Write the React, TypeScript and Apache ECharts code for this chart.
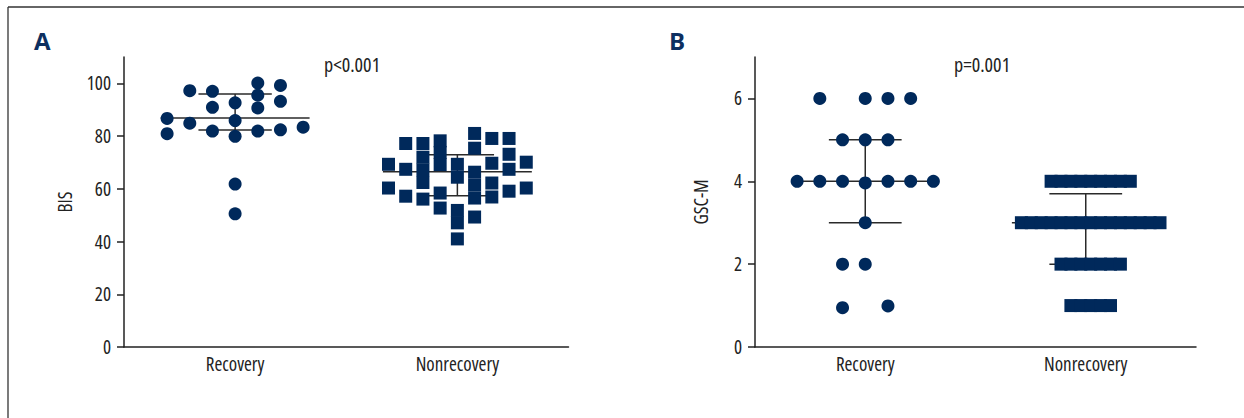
import React, { useEffect, useRef } from 'react';
import * as echarts from 'echarts';

const categories = ['Recovery', 'Nonrecovery'];
const bisTicks = [0, 20, 40, 60, 80, 100];
const gscTicks = [0, 2, 4, 6];

// points: [jitter lane, value]
const bisRecovery = [
  [-3, 86.7], [-3, 80.9],
  [-2, 97.2], [-2, 84.9],
  [-1, 97.0], [-1, 90.9], [-1, 81.9],
  [0, 92.6], [0, 85.9], [0, 79.9], [0, 61.8], [0, 50.5],
  [1, 100.1], [1, 95.5], [1, 90.7], [1, 81.9],
  [2, 99.2], [2, 93.2], [2, 82.4],
  [3, 83.4],
];
const bisNonrecovery = [
  [-4, 69.3], [-4, 60.3],
  [-3, 77.2], [-3, 67.4], [-3, 57.2],
  [-2, 77.2], [-2, 72.0], [-2, 67.2], [-2, 62.4], [-2, 56.1],
  [-1, 78.2], [-1, 73.8], [-1, 69.2], [-1, 58.4], [-1, 52.7],
  [0, 69.3], [0, 64.4], [0, 51.8], [0, 47.1], [0, 41.0],
  [1, 81.0], [1, 75.4], [1, 66.3], [1, 61.4], [1, 56.5], [1, 49.3],
  [2, 79.1], [2, 69.7], [2, 62.2], [2, 56.9],
  [3, 79.1], [3, 73.1], [3, 67.4], [3, 59.1],
  [4, 70.1], [4, 60.3],
];
const gscRecovery = [
  [-2, 6], [0, 6], [1, 6], [2, 6],
  [-1, 5], [0, 5], [1, 5],
  [-3, 4], [-2, 4], [-1, 4], [0, 3.96], [1, 4], [2, 4], [3, 4],
  [0, 3],
  [-1, 2], [0, 2],
  [-1, 0.95], [1, 0.99],
];
const gscNonrecovery = [
  [-3.5, 4], [-2.5, 4], [-1.5, 4], [-0.5, 4], [0.5, 4], [1.5, 4], [2.5, 4], [3.5, 4], [4.5, 4],
  [-6.5, 3], [-5.5, 3], [-4.5, 3], [-3.5, 3], [-2.5, 3], [-1.5, 3], [-0.5, 3], [0.5, 3],
  [1.5, 3], [2.5, 3], [3.5, 3], [4.5, 3], [5.5, 3], [6.5, 3], [7.5, 3],
  [-2.5, 2], [-1.5, 2], [-0.5, 2], [0.5, 2], [1.5, 2], [2.5, 2], [3.5, 2],
  [-1.5, 1], [-0.5, 1], [0.5, 1], [1.5, 1], [2.5, 1],
];

const bisMedian = [86.9, 66.5];
const bisQ1 = [82.3, 57.4];
const bisQ3 = [96.0, 72.9];
const gscMedian = [4, 3];
const gscQ1 = [3, 2];
const gscQ3 = [5, 3.7];

const NAVY = '#00295b';
const INK = '#222';
const FAMILY = "'Open Sans', sans-serif";
const MED_HALF = 0.335;
const QUART_HALF = 0.165;

function place(points: number[][], group: number, step: number) {
  return points.map(([lane, v]) => [group + lane * step, v]);
}

function errorSeries(xAxisIndex: number, yAxisIndex: number, q1: number[], med: number[], q3: number[]) {
  return {
    type: 'custom',
    xAxisIndex,
    yAxisIndex,
    z: 1,
    silent: true,
    data: categories.map((_, i) => [i, q1[i], med[i], q3[i]]),
    encode: { x: 0, y: [1, 2, 3] },
    renderItem: (_params: any, api: any) => {
      const x = api.value(0);
      const lo = api.value(1);
      const m = api.value(2);
      const hi = api.value(3);
      const style = { stroke: '#2a2a2a', lineWidth: 1.5 };
      const seg = (xa: number, ya: number, xb: number, yb: number) => {
        const a = api.coord([xa, ya]);
        const b = api.coord([xb, yb]);
        return { type: 'line', shape: { x1: a[0], y1: a[1], x2: b[0], y2: b[1] }, style };
      };
      return {
        type: 'group',
        children: [
          seg(x - MED_HALF, m, x + MED_HALF, m),
          seg(x - QUART_HALF, hi, x + QUART_HALF, hi),
          seg(x - QUART_HALF, lo, x + QUART_HALF, lo),
          seg(x, hi, x, lo),
        ],
      };
    },
  };
}

function catAxis(gridIndex: number) {
  return {
    type: 'category',
    gridIndex,
    data: categories,
    boundaryGap: true,
    axisLine: { onZero: false, lineStyle: { color: INK, width: 1.5 } },
    axisTick: { alignWithLabel: true, length: 6, lineStyle: { color: INK, width: 1.5 } },
    axisLabel: { color: INK, fontFamily: FAMILY, fontSize: 19, margin: 7, interval: 0 },
    splitLine: { show: false },
  };
}

function posAxis(gridIndex: number) {
  return { type: 'value', gridIndex, min: -0.5, max: 1.5, show: false, splitLine: { show: false } };
}

function valAxis(gridIndex: number, name: string, max: number, interval: number, ticks: number[]) {
  return {
    type: 'value',
    gridIndex,
    min: 0,
    max,
    interval,
    name,
    nameLocation: 'middle',
    nameRotate: 90,
    nameGap: 45,
    nameTextStyle: { color: INK, fontFamily: FAMILY, fontSize: 19 },
    axisLine: { show: true, onZero: false, lineStyle: { color: INK, width: 1.5 } },
    axisTick: { show: true, length: 7, customValues: ticks, lineStyle: { color: INK, width: 1.5 } },
    axisLabel: { color: INK, fontFamily: FAMILY, fontSize: 19, margin: 13, customValues: ticks },
    splitLine: { show: false },
  };
}

export default function App() {
  const ref = useRef<HTMLDivElement>(null);
  useEffect(() => {
    if (!ref.current) return;
    const chart = echarts.init(ref.current, undefined, { renderer: 'svg' });
    chart.setOption({
      animation: false,
      backgroundColor: '#fff',
      grid: [
        { left: 124, top: 57, width: 444.5, height: 290 },
        { left: 755, top: 57, width: 441, height: 290 },
      ],
      xAxis: [catAxis(0), posAxis(0), catAxis(1), posAxis(1)],
      yAxis: [
        valAxis(0, 'BIS', 110, 20, bisTicks),
        valAxis(1, 'GSC-M', 7, 2, gscTicks),
      ],
      series: [
        errorSeries(1, 0, bisQ1, bisMedian, bisQ3),
        errorSeries(3, 1, gscQ1, gscMedian, gscQ3),
        {
          type: 'scatter', xAxisIndex: 1, yAxisIndex: 0, z: 3,
          symbol: 'circle', symbolSize: 13, itemStyle: { color: NAVY, opacity: 1 },
          data: place(bisRecovery, 0, 0.102),
        },
        {
          type: 'scatter', xAxisIndex: 1, yAxisIndex: 0, z: 3,
          symbol: 'rect', symbolSize: 13, itemStyle: { color: NAVY, opacity: 1 },
          data: place(bisNonrecovery, 1, 0.0775),
        },
        {
          type: 'scatter', xAxisIndex: 3, yAxisIndex: 1, z: 3,
          symbol: 'circle', symbolSize: 13, itemStyle: { color: NAVY, opacity: 1 },
          data: place(gscRecovery, 0, 0.103),
        },
        {
          type: 'scatter', xAxisIndex: 3, yAxisIndex: 1, z: 3,
          symbol: 'rect', symbolSize: 13, itemStyle: { color: NAVY, opacity: 1 },
          data: place(gscNonrecovery, 1, 0.0449),
        },
      ],
      graphic: [
        { type: 'line', shape: { x1: 8, y1: 7, x2: 1244, y2: 7 }, style: { stroke: '#333', lineWidth: 1.3 } },
        { type: 'line', shape: { x1: 8, y1: 7, x2: 8, y2: 418 }, style: { stroke: '#333', lineWidth: 1.3 } },
        {
          type: 'text', x: 34, y: 40.5,
          style: { text: 'A', fill: '#0d2f60', font: 'bold 24px "Open Sans", sans-serif', textVerticalAlign: 'middle' },
        },
        {
          type: 'text', x: 669, y: 40.5,
          style: { text: 'B', fill: '#0d2f60', font: 'bold 24px "Open Sans", sans-serif', textVerticalAlign: 'middle' },
        },
        {
          type: 'text', x: 324, y: 64,
          style: { text: 'p<0.001', fill: INK, font: 'condensed 20px "Open Sans", sans-serif', textVerticalAlign: 'middle' },
        },
        {
          type: 'text', x: 954, y: 64,
          style: { text: 'p=0.001', fill: INK, font: 'condensed 20px "Open Sans", sans-serif', textVerticalAlign: 'middle' },
        },
      ],
    });
    return () => chart.dispose();
  }, []);
  return (
    <>
      <style>{'#chart-root svg text { font-stretch: condensed; }'}</style>
      <div id="chart-root" ref={ref} style={{ position: 'absolute', left: 0, top: 0, width: 1244, height: 418 }} />
    </>
  );
}
